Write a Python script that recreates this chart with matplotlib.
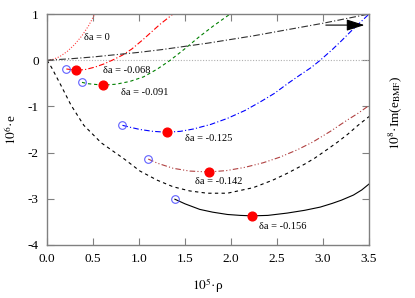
import numpy as np
import matplotlib
matplotlib.use('Agg')
import matplotlib.pyplot as plt

plt.rcParams['font.family'] = ['Liberation Serif', 'DejaVu Serif']
plt.rcParams['mathtext.fontset'] = 'stix'
plt.rcParams['axes.unicode_minus'] = False

# curves (x = 10^5 rho, y = 10^6 e)
x_d0 = [0.0, 0.07, 0.14, 0.22, 0.3, 0.38, 0.45, 0.52]
y_d0 = [0.0, 0.02, 0.08, 0.19, 0.34, 0.53, 0.74, 1.0]

x_d068 = [0.21, 0.32, 0.42, 0.52, 0.62, 0.72, 0.82, 0.92, 1.04, 1.14, 1.23, 1.37]
y_d068 = [-0.19, -0.22, -0.2, -0.15, -0.08, 0.01, 0.11, 0.24, 0.44, 0.62, 0.78, 1.0]

x_d091 = [0.38, 0.45, 0.61, 0.75, 0.9, 1.05, 1.2, 1.34, 1.5, 1.65, 1.8, 1.99]
y_d091 = [-0.48, -0.51, -0.54, -0.52, -0.46, -0.36, -0.19, 0.0, 0.25, 0.5, 0.73, 1.0]

x_d125 = [0.82, 0.9, 1.01, 1.15, 1.3, 1.45, 1.59, 1.78, 1.96, 2.15, 2.32, 2.47,
          2.62, 2.75, 2.87, 2.97, 3.1, 3.2, 3.3, 3.4, 3.5]
y_d125 = [-1.41, -1.45, -1.5, -1.54, -1.56, -1.54, -1.49, -1.39, -1.26, -1.09, -0.9, -0.72,
          -0.5, -0.32, -0.16, 0.0, 0.23, 0.42, 0.62, 0.81, 1.0]

x_d142 = [1.1, 1.2, 1.37, 1.55, 1.76, 1.95, 2.15, 2.35, 2.53, 2.72, 2.89, 3.08, 3.26, 3.38, 3.5]
y_d142 = [-2.14, -2.23, -2.34, -2.4, -2.42, -2.39, -2.32, -2.22, -2.1, -1.94, -1.77, -1.54, -1.3, -1.15, -0.98]

x_d156 = [1.39, 1.5, 1.66, 1.8, 1.96, 2.1, 2.23, 2.4, 2.61, 2.8, 2.97, 3.1, 3.2, 3.33, 3.42, 3.5]
y_d156 = [-3.01, -3.11, -3.23, -3.29, -3.34, -3.36, -3.37, -3.36, -3.31, -3.25, -3.18, -3.1, -3.03, -2.92, -2.81, -2.68]

# black dashed curve from the origin
x_bd = [0.0, 0.05, 0.15, 0.26, 0.4, 0.59, 0.84, 1.01, 1.2, 1.37, 1.55, 1.74, 1.96,
        2.24, 2.45, 2.61, 2.8, 2.91, 3.04, 3.16, 3.27, 3.38, 3.5]
y_bd = [0.0, -0.16, -0.54, -0.97, -1.41, -1.79, -2.14, -2.4, -2.6, -2.74, -2.83, -2.88, -2.88,
        -2.76, -2.6, -2.45, -2.25, -2.12, -1.94, -1.77, -1.6, -1.41, -1.22]

# dash-dot curve (right axis, Im(e_BMF))
x_im = [0.0, 0.25, 0.5, 0.75, 1.0, 1.25, 1.5, 1.75, 2.0, 2.25, 2.5, 2.75, 3.0, 3.25, 3.5]
y_im = [0.0, 0.03, 0.07, 0.12, 0.17, 0.23, 0.3, 0.37, 0.45, 0.53, 0.62, 0.71, 0.8, 0.9, 1.0]

# start points (open) and marked points (filled)
x_open = [0.21, 0.38, 0.82, 1.1, 1.39]
y_open = [-0.19, -0.48, -1.41, -2.14, -3.01]
x_mark = [0.32, 0.61, 1.3, 1.76, 2.23]
y_mark = [-0.22, -0.54, -1.56, -2.42, -3.37]

labels = ['δa = 0', 'δa = -0.068', 'δa = -0.091', 'δa = -0.125', 'δa = -0.142', 'δa = -0.156']
label_x = [0.40, 0.61, 0.80, 1.50, 1.61, 2.30]
label_y = [0.50, -0.22, -0.71, -1.70, -2.62, -3.61]

fig = plt.figure(figsize=(4.15, 2.98), dpi=100)
ax = fig.add_axes([0.1133, 0.178, 0.776, 0.775])

lw = 0.8
ax.axhline(0, color='#b0b0b0', lw=lw, ls=(0, (1, 1.5)))
ax.plot(x_d0, y_d0, color='#ff4040', lw=lw, ls=(0, (1, 1.5)))
ax.plot(x_d068, y_d068, color='#ff0000', lw=lw, ls=(0, (5, 2, 1, 2)))
ax.plot(x_d091, y_d091, color='#008000', lw=lw, ls=(0, (3, 2.5)))
ax.plot(x_d125, y_d125, color='#0000ff', lw=lw, ls=(0, (5, 2, 1, 2)))
ax.plot(x_d142, y_d142, color='#b04040', lw=lw, ls=(0, (5, 2, 1, 2, 1, 2)))
ax.plot(x_bd, y_bd, color='black', lw=lw, ls=(0, (3, 3)))
ax.plot(x_d156, y_d156, color='black', lw=lw)
ax.plot(x_im, y_im, color='#303030', lw=lw, ls=(0, (6, 2, 1, 2)))

ax.plot(x_open, y_open, 'o', mfc='none', mec='#6060ff', ms=5.5, mew=0.8)
ax.plot(x_mark, y_mark, 'o', color='red', ms=6.3)

for t, lx, ly in zip(labels, label_x, label_y):
    ax.text(lx, ly, t, fontsize=7.5, ha='left', va='center')

ax.annotate('', xy=(3.48, 0.76), xytext=(3.0, 0.76),
            arrowprops=dict(arrowstyle='-|>,head_length=1.1,head_width=0.35',
                            color='black', lw=0.8))

ax.set_xlim(0, 3.5)
ax.set_ylim(-4, 1)
ax.set_xticks(np.arange(0, 3.51, 0.5))
ax.set_xticklabels([f'{v:.1f}' for v in np.arange(0, 3.51, 0.5)])
ax.set_yticks([-4, -3, -2, -1, 0, 1])
ax.tick_params(direction='in', top=True, right=True, length=5, width=0.8,
               color='#808080', labelsize=9.5, pad=6)
for s in ax.spines.values():
    s.set_color('#808080')
    s.set_linewidth(1.0)

ax.set_xlabel(r'$10^5$·ρ', fontsize=9.5, labelpad=8)
ax.set_ylabel(r'$10^6$·e', fontsize=9.5, labelpad=6)
fig.text(0.952, 0.62, r'$10^8$·Im(e$_{\rm BMF}$)', rotation=90, fontsize=9.5,
         ha='center', va='center')

plt.savefig('out.png', dpi=100)
